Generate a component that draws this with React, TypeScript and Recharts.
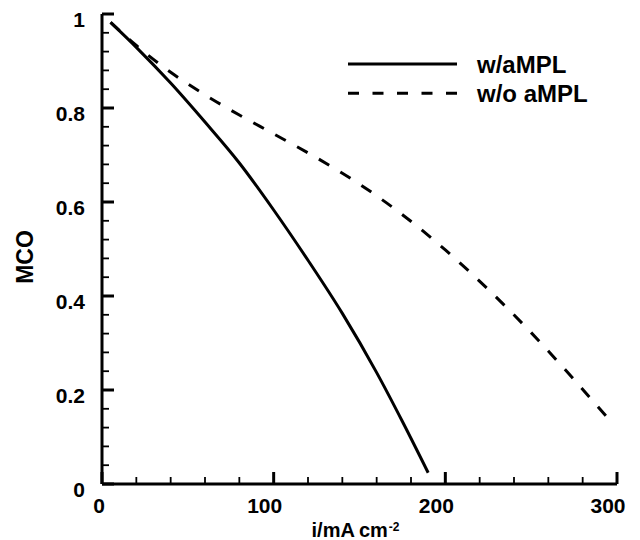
import React from 'react';
import { LineChart, Line, XAxis, YAxis, Legend } from 'recharts';

// Series: MCO vs current density
const withX = [5, 20, 40, 60, 80, 100, 120, 140, 160, 175, 190];
const withY = [0.982, 0.929, 0.853, 0.77, 0.683, 0.583, 0.476, 0.363, 0.237, 0.133, 0.024];
const withoutX = [5, 20, 40, 60, 80, 100, 125, 150, 175, 200, 225, 250, 275, 298];
const withoutY = [0.982, 0.933, 0.876, 0.828, 0.785, 0.745, 0.694, 0.638, 0.573, 0.498, 0.414, 0.322, 0.222, 0.126];
const seriesNames = ['w/aMPL', 'w/o aMPL'];

// Ticks
const xTicks = Array.from({ length: 16 }, (_, i) => i * 20);
const xMajor = [0, 100, 200, 300];
const xTickLabels = ['0', '100', '200', '300'];
const yTicks = Array.from({ length: 26 }, (_, i) => (i * 4) / 100);
const yMajor = [0, 0.2, 0.4, 0.6, 0.8, 1];
const yTickLabels = ['0', '0.2', '0.4', '0.6', '0.8', '1'];

const withData = withX.map((x, i) => ({ x, y: withY[i] }));
const withoutData = withoutX.map((x, i) => ({ x, y: withoutY[i] }));

const FONT = '"Liberation Sans", Arial, Helvetica, sans-serif';

function XTick(props: any) {
  const { x, y, payload } = props;
  const idx = xMajor.findIndex((v) => Math.abs(v - payload.value) < 1e-9);
  const major = idx >= 0;
  const label = major ? xTickLabels[idx] : '';
  return (
    <g>
      <line x1={x} y1={y} x2={x} y2={y - (major ? 12 : 7)} stroke="#000" strokeWidth={major ? 3 : 1.8} />
      {major && (
        <text x={x - 3 * label.length} y={y + 29} textAnchor="middle" fontFamily={FONT} fontWeight="bold" fontSize={21} fill="#000">
          {label}
        </text>
      )}
    </g>
  );
}

function YTick(props: any) {
  const { x, y, payload } = props;
  const idx = yMajor.findIndex((v) => Math.abs(v - payload.value) < 1e-9);
  const major = idx >= 0;
  const label = major ? yTickLabels[idx] : '';
  return (
    <g>
      <line x1={x} y1={y} x2={x + (major ? 12 : 7)} y2={y} stroke="#000" strokeWidth={major ? 3 : 1.8} />
      {major && (
        <text x={x - 17} y={y + 13} textAnchor="end" fontFamily={FONT} fontWeight="bold" fontSize={21} fill="#000">
          {label}
        </text>
      )}
    </g>
  );
}

function XTitle(props: any) {
  const vb = props.viewBox || { x: 102, y: 484, width: 515, height: 56 };
  const cx = vb.x + vb.width / 2 - 4;
  const by = vb.y + 53;
  return (
    <text x={cx} y={by} textAnchor="middle" fontFamily={FONT} fontWeight="bold" fontSize={20} fill="#000">
      <tspan>i/mA</tspan>
      <tspan dx={4}>cm</tspan>
      <tspan dx={1} dy={-6} fontSize={12}>-2</tspan>
    </text>
  );
}

function YTitle(props: any) {
  const vb = props.viewBox || { x: 0, y: 14, width: 102, height: 470 };
  const tx = vb.x + 33;
  const ty = vb.y + vb.height / 2 + 8;
  return (
    <text x={tx} y={ty} transform={`rotate(-90 ${tx} ${ty})`} textAnchor="middle" fontFamily={FONT} fontWeight="bold" fontSize={23} fill="#000">
      MCO
    </text>
  );
}

function LegendContent() {
  return (
    <svg width={260} height={64} style={{ display: 'block', overflow: 'visible' }}>
      <line x1={8} y1={14} x2={117} y2={14} stroke="#000" strokeWidth={3} />
      <text x={137} y={22.7} fontFamily={FONT} fontWeight="bold" fontSize={24} fill="#000">
        {seriesNames[0]}
      </text>
      <line x1={8} y1={43.3} x2={117} y2={43.3} stroke="#000" strokeWidth={3} strokeDasharray="11 13.5" />
      <text x={137} y={51.7} fontFamily={FONT} fontWeight="bold" fontSize={24} fill="#000">
        {seriesNames[1]}
      </text>
    </svg>
  );
}

export default function App() {
  return (
    <div style={{ position: 'absolute', left: 0, top: 0, background: '#fff' }}>
      <LineChart width={640} height={540} margin={{ top: 14, right: 23, bottom: 0, left: 0 }}>
        <XAxis
          type="number"
          dataKey="x"
          domain={[0, 300]}
          ticks={xTicks}
          interval={0}
          tickSize={0}
          tickMargin={0}
          tickLine={false}
          tick={<XTick />}
          axisLine={{ stroke: '#000', strokeWidth: 3 }}
          height={56}
          label={{ content: XTitle }}
        />
        <YAxis
          type="number"
          dataKey="y"
          domain={[0, 1]}
          ticks={yTicks}
          interval={0}
          tickSize={0}
          tickMargin={0}
          tickLine={false}
          tick={<YTick />}
          axisLine={{ stroke: '#000', strokeWidth: 3 }}
          width={102}
          label={{ content: YTitle }}
        />
        <Legend
          layout="horizontal"
          verticalAlign="middle"
          align="center"
          wrapperStyle={{ left: 340, top: 50, width: 260, height: 64 }}
          content={LegendContent}
        />
        <Line
          data={withData}
          dataKey="y"
          name={seriesNames[0]}
          type="monotone"
          stroke="#000"
          strokeWidth={3}
          dot={false}
          activeDot={false}
          isAnimationActive={false}
        />
        <Line
          data={withoutData}
          dataKey="y"
          name={seriesNames[1]}
          type="monotone"
          stroke="#000"
          strokeWidth={3}
          strokeDasharray="12 13"
          dot={false}
          activeDot={false}
          isAnimationActive={false}
        />
      </LineChart>
    </div>
  );
}
